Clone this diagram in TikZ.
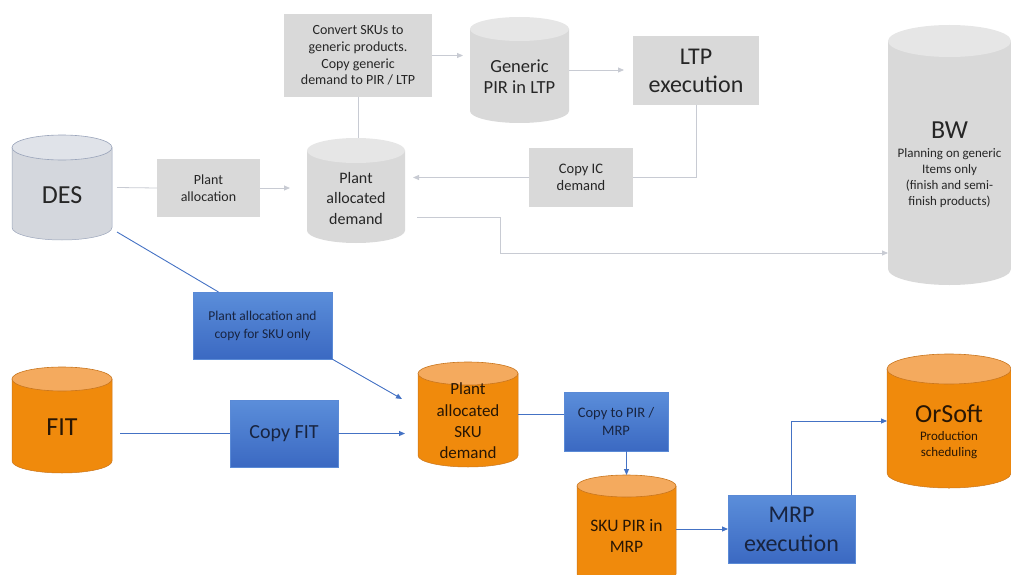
\documentclass[tikz,border=0pt]{standalone}
\usepackage{fontspec}
\setmainfont{Carlito}
\usetikzlibrary{arrows.meta,backgrounds}

\definecolor{boxgrey}{RGB}{217,217,217}
\definecolor{cylgrey}{RGB}{217,217,217}
\definecolor{cylgreytop}{RGB}{230,230,230}
\definecolor{desbody}{RGB}{212,215,221}
\definecolor{destop}{RGB}{224,227,233}
\definecolor{desline}{RGB}{154,164,186}
\definecolor{orbody}{RGB}{240,138,12}
\definecolor{ortop}{RGB}{244,170,94}
\definecolor{orline}{RGB}{201,118,30}
\definecolor{bluetop}{RGB}{91,142,218}
\definecolor{bluebot}{RGB}{59,105,194}
\definecolor{blueedge}{RGB}{90,138,214}
\definecolor{blueline}{RGB}{68,114,196}
\definecolor{greyline}{RGB}{200,203,211}
\definecolor{darktext}{RGB}{38,38,38}
\definecolor{navytext}{RGB}{24,36,64}
\definecolor{browntext}{RGB}{40,22,4}

\newcommand{\fsz}[2]{\fontsize{#1}{#2}\selectfont}

% database cylinder: name, centre x, half width, top y, bottom y, cap radius, look
\newcommand{\dbcyl}[7]{%
  \path[#7 body] ({#2-#3},{-(#4+#6)}) -- ({#2-#3},{-(#5-#6)})
    arc[start angle=180,end angle=360,x radius=#3pt,y radius=#6pt]
    -- ({#2+#3},{-(#4+#6)}) -- cycle;
  \path[#7 top] (#2,{-(#4+#6)}) ellipse[x radius=#3pt,y radius=#6pt];
  \node[hit, minimum width={2*#3*1pt}, minimum height={(#5-#4)*1pt}]
    (#1) at (#2,{-(#4+#5)/2}) {};
}

\tikzset{
  greybox/.style={rectangle, fill=boxgrey, text=darktext, align=center,
    inner sep=0pt, outer sep=0pt},
  bluebox/.style={rectangle, draw=blueedge, line width=0.6pt,
    text=navytext, align=center, inner sep=0pt, outer sep=0pt},
  hit/.style={rectangle, inner sep=0pt, outer sep=0pt, draw=none},
  greylabel/.style={text=darktext, align=center, inner sep=0pt},
  orlabel/.style={text=browntext, align=center, inner sep=0pt},
  gline/.style={draw=greyline, line width=0.8pt},
  garrow/.style={gline, -{Triangle[length=6pt,width=5pt]}},
  bline/.style={draw=blueline, line width=0.9pt},
  barrow/.style={bline, -{Triangle[length=6pt,width=5pt]}},
  grey body/.style={fill=cylgrey},
  grey top/.style={fill=cylgreytop},
  des body/.style={fill=desbody, draw=desline, line width=0.5pt},
  des top/.style={fill=destop, draw=desline, line width=0.6pt},
  or body/.style={fill=orbody, draw=orline, line width=0.5pt},
  or top/.style={fill=ortop, draw=orline, line width=0.6pt},
}

\begin{document}
\begin{tikzpicture}[x=1pt,y=1pt]
\useasboundingbox (0,0) rectangle (1011,-575);
\clip (0,0) rectangle (1011,-575);

% ---- databases ----
\dbcyl{des}{62}{50}{135}{240}{12.5}{des}
\dbcyl{pad}{356}{49}{138}{243}{12.5}{grey}
\dbcyl{gen}{519.5}{49.5}{17}{123}{12}{grey}
\dbcyl{bw}{949.5}{61.5}{25}{285}{16}{grey}
\dbcyl{fit}{62}{50}{367}{473}{12}{or}
\dbcyl{pasku}{468}{50}{362}{467}{11.5}{or}
\dbcyl{skupir}{626.5}{49.5}{475}{585}{11}{or}
\dbcyl{orsoft}{949}{62}{354}{488}{15}{or}

% ---- database labels ----
\node[greylabel, font=\fsz{26}{30}] (des-t) at (62,-195) {DES};
\node[greylabel, font=\fsz{16}{20.5}] (pad-t) at (356,-198.5) {Plant\\allocated\\demand};
\node[greylabel, font=\fsz{18.5}{21}] (gen-t) at (519.5,-77) {Generic\\PIR in LTP};
\node[greylabel, font=\fsz{26}{30}] (bw-t) at (949.5,-130) {BW};
\node[greylabel, font=\fsz{13}{16}] (bw-s) at (949.5,-178) {Planning on generic\\Items only\\(finish and semi-\\finish products)};
\node[orlabel, font=\fsz{26}{30}] (fit-t) at (62,-427) {FIT};
\node[orlabel, font=\fsz{17}{21.3}] (pasku-t) at (468,-421) {Plant\\allocated\\SKU\\demand};
\node[orlabel, font=\fsz{17.5}{21}] (skupir-t) at (626.5,-535.5) {SKU PIR in\\MRP};
\node[orlabel, font=\fsz{26}{30}] (orsoft-t) at (949,-414) {OrSoft};
\node[orlabel, font=\fsz{13}{16}] (orsoft-s) at (949,-445) {Production\\scheduling};

% ---- process boxes ----
\node[greybox, minimum width=148pt, minimum height=83pt, font=\fsz{14}{16.8}]
  (conv) at (358,-55.5) {Convert SKUs to\\generic products.\\Copy generic\\demand to PIR / LTP};
\node[greybox, minimum width=103pt, minimum height=58pt, font=\fsz{14}{17.5}]
  (palloc) at (208.5,-188) {Plant\\allocation};
\node[greybox, minimum width=126pt, minimum height=69pt, font=\fsz{24}{28}]
  (ltp) at (696,-70.5) {LTP\\execution};
\node[greybox, minimum width=104pt, minimum height=59pt, font=\fsz{14.5}{17.5}]
  (copyic) at (581,-177.5) {Copy IC\\demand};

\node[bluebox, minimum width=139pt, minimum height=67pt, font=\fsz{13.5}{18}]
  (pacopy) at (262.5,-325.5) {Plant allocation and\\copy for SKU only};
\node[bluebox, minimum width=108pt, minimum height=67pt, font=\fsz{20}{24}]
  (copyfit) at (284,-433.5) {Copy FIT};
\node[bluebox, minimum width=104pt, minimum height=59pt, font=\fsz{14.5}{17.5}]
  (copypir) at (616,-421.5) {Copy to PIR /\\MRP};
\node[bluebox, minimum width=127pt, minimum height=68pt, font=\fsz{24}{29}]
  (mrp) at (791.5,-529) {MRP\\execution};

% gradient fill of the blue process boxes, kept behind their text
\begin{scope}[on background layer]
  \foreach \b in {pacopy,copyfit,copypir,mrp}
    \shade[top color=bluetop, bottom color=bluebot] (\b.north west) rectangle (\b.south east);
\end{scope}

% ---- grey (generic planning) flow ----
\draw[gline] ([xshift=5pt]des.east) -- (palloc.west);
\draw[garrow, shorten >=17pt] (palloc.east) -- (palloc.east -| pad.west);
\draw[gline] (conv.south) -- (conv.south |- pad.north);
\draw[garrow, shorten >=7pt] (conv.east) -- (conv.east -| gen.west);
\draw[garrow, shorten >=9pt] (gen.east) -- (gen.east -| ltp.west);
\draw[gline] (ltp.south) |- (copyic.east);
\draw[garrow, shorten >=8pt] (copyic.west) -- (copyic.west -| pad.east);
\draw[garrow] ([xshift=12pt,yshift=-26.5pt]pad.east) -- ++(83,0)
  |- ([yshift=-98pt]bw.west);

% ---- blue (SKU planning) flow ----
\draw[bline] ([xshift=5pt,yshift=8pt]des.south east) -- ([xshift=25.5pt]pacopy.north west);
\draw[barrow] (pacopy.south east) -- ([xshift=-16pt,yshift=-37pt]pasku.north west);
\draw[bline] ([xshift=8pt]fit.east |- copyfit.west) -- (copyfit.west);
\draw[barrow, shorten >=13pt] (copyfit.east) -- (copyfit.east -| pasku.west);
\draw[bline] ([yshift=7.5pt]copypir.west -| pasku.east) -- ([yshift=7.5pt]copypir.west);
\draw[barrow] (copypir.south -| skupir.north) -- (skupir.north);
\draw[barrow] (mrp.west -| skupir.east) -- (mrp.west);
\draw[barrow] (mrp.north) |- (orsoft.west);
\end{tikzpicture}
\end{document}
